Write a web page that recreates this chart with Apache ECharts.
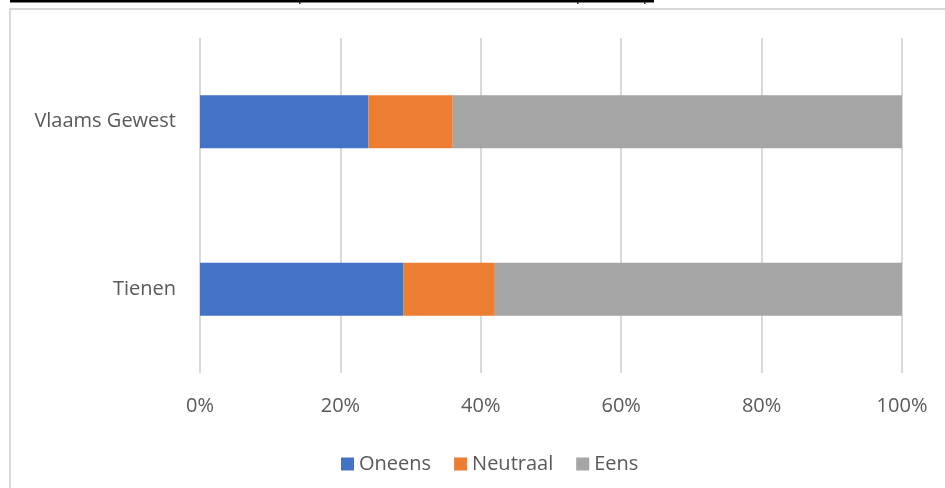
<!DOCTYPE html>
<html>
<head>
<meta charset="utf-8">
<script src="https://cdn.jsdelivr.net/npm/echarts@6/dist/echarts.min.js"></script>
<style>
  html, body { margin: 0; padding: 0; background: #fff; }
  #main { width: 945px; height: 488px; }
</style>
</head>
<body>
<div id="main"></div>
<script>
// categories from bottom to top (ECharts category axis on y goes upward)
var categories = ['Tienen', 'Vlaams Gewest'];
var oneens = [29, 24];
var neutraal = [13, 12];
var eens = [58, 64];
var tickLabels = ['0%', '20%', '40%', '60%', '80%', '100%'];

var chart = echarts.init(document.getElementById('main'));
var font = '"Open Sans", "Liberation Sans", sans-serif';
var textColor = '#595959';

function barSeries(name, data, color) {
    return {
        name: name,
        type: 'bar',
        stack: 'totaal',
        barWidth: '31.5%',
        data: data,
        itemStyle: { color: color },
        emphasis: { disabled: true }
    };
}

chart.setOption({
    animation: false,
    textStyle: { fontFamily: font },
    grid: { left: 200, right: 43, top: 38, bottom: 115 },
    xAxis: {
        type: 'value',
        min: 0,
        max: 100,
        interval: 20,
        axisLine: { show: false },
        axisTick: { show: false },
        splitLine: { lineStyle: { color: '#d9d9d9', width: 2 } },
        axisLabel: {
            color: textColor,
            fontSize: 20,
            fontFamily: font,
            margin: 23,
            formatter: function (v) { return tickLabels[v / 20]; }
        }
    },
    yAxis: {
        type: 'category',
        data: categories,
        axisLine: { show: false },
        axisTick: { show: false },
        axisLabel: { color: textColor, fontSize: 20, fontFamily: font, margin: 24 }
    },
    legend: {
        left: 336,
        top: 449,
        itemWidth: 13,
        itemHeight: 13,
        itemGap: 23,
        icon: 'rect',
        textStyle: { color: textColor, fontSize: 20, fontFamily: font },
        data: ['Oneens', 'Neutraal', 'Eens']
    },
    graphic: [
        // outer chart frame (cut off on the right / bottom)
        { type: 'rect', shape: { x: 10, y: 9, width: 960, height: 500 }, style: { fill: 'none', stroke: '#d9d9d9', lineWidth: 2 }, silent: true },
        // black line from cut-off title above
        { type: 'rect', shape: { x: 10, y: 0, width: 644, height: 2.5 }, style: { fill: '#000' }, silent: true },
        { type: 'rect', shape: { x: 299, y: 2, width: 1.5, height: 2 }, style: { fill: '#333' }, silent: true },
        { type: 'rect', shape: { x: 577, y: 2, width: 1.5, height: 2 }, style: { fill: '#333' }, silent: true },
        { type: 'rect', shape: { x: 644, y: 2, width: 1.5, height: 2 }, style: { fill: '#333' }, silent: true }
    ],
    series: [
        barSeries('Oneens', oneens, '#4472C4'),
        barSeries('Neutraal', neutraal, '#ED7D31'),
        barSeries('Eens', eens, '#A5A5A5')
    ]
});
</script>
</body>
</html>
